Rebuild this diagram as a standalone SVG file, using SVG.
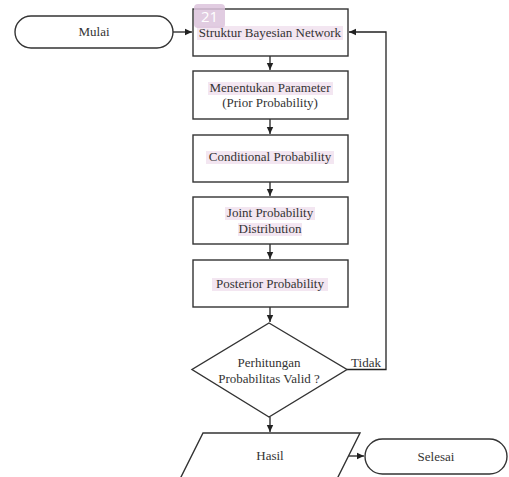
<svg xmlns="http://www.w3.org/2000/svg" width="509" height="477" viewBox="0 0 509 477">
<defs>
<marker id="ah" markerWidth="8" markerHeight="8" refX="7" refY="4" orient="auto" markerUnits="userSpaceOnUse">
<path d="M0,0.8 L7,4 L0,7.2 Z" fill="#222"/>
</marker>
<style>
.s{fill:#fff;stroke:#333;stroke-width:1.4}
.hl{fill:#f3e6f1}
.c{fill:none;stroke:#222;stroke-width:1.3}
</style>
</defs>
<rect width="509" height="477" fill="#fff"/>
<g font-family="Liberation Serif, Times New Roman, serif" font-size="13" fill="#333" text-anchor="middle">
<g id="connectors">
<line class="c" x1="173" y1="32" x2="192" y2="32" marker-end="url(#ah)"/>
<line class="c" x1="270" y1="56" x2="270" y2="70" marker-end="url(#ah)"/>
<line class="c" x1="270" y1="119" x2="270" y2="134" marker-end="url(#ah)"/>
<line class="c" x1="270" y1="182" x2="270" y2="196" marker-end="url(#ah)"/>
<line class="c" x1="270" y1="244" x2="270" y2="259" marker-end="url(#ah)"/>
<line class="c" x1="270" y1="307" x2="270" y2="322" marker-end="url(#ah)"/>
<line class="c" x1="270" y1="417" x2="270" y2="432" marker-end="url(#ah)"/>
<polyline class="c" points="347,369.5 386,369.5 386,32 349,32" marker-end="url(#ah)"/>
<line class="c" x1="348" y1="456" x2="364" y2="456" marker-end="url(#ah)"/>
<text x="366" y="367">Tidak</text>
</g>
<g id="mulai">
<rect class="s" x="15" y="16" width="158" height="32" rx="16" ry="16"/>
<text x="94" y="36">Mulai</text>
</g>
<g id="struktur">
<rect class="s" x="193" y="9" width="155" height="47"/>
<rect class="hl" x="197" y="26" width="146" height="14"/>
<text x="270" y="37">Struktur Bayesian Network</text>
<rect x="194" y="4" width="31" height="24" rx="4" fill="#dcc3dc" opacity="0.85"/>
<text x="209.5" y="22" font-family="Open Sans, Noto Sans, sans-serif" font-size="15" fill="#fff">21</text>
</g>
<g id="parameter">
<rect class="s" x="193" y="71" width="155" height="48"/>
<rect class="hl" x="208" y="82" width="125" height="13"/>
<text x="270" y="92">Menentukan Parameter</text>
<text x="270" y="107">(Prior Probability)</text>
</g>
<g id="conditional">
<rect class="s" x="193" y="135" width="155" height="47"/>
<rect class="hl" x="206" y="151" width="128" height="13"/>
<text x="270" y="161">Conditional Probability</text>
</g>
<g id="joint">
<rect class="s" x="193" y="197" width="155" height="47"/>
<rect class="hl" x="225" y="207" width="90" height="13"/>
<rect class="hl" x="238" y="223" width="64" height="13"/>
<text x="270" y="217">Joint Probability</text>
<text x="270" y="233">Distribution</text>
</g>
<g id="posterior">
<rect class="s" x="193" y="260" width="155" height="47"/>
<rect class="hl" x="212" y="278" width="116" height="13"/>
<text x="270" y="288">Posterior Probability</text>
</g>
<g id="valid">
<polygon class="s" points="269,323 347,369.5 269,417 192,369.5"/>
<text x="269" y="367">Perhitungan</text>
<text x="269" y="383">Probabilitas Valid ?</text>
</g>
<g id="hasil">
<polygon class="s" points="203,433 360,433 337,479 180,479"/>
<text x="270" y="460">Hasil</text>
</g>
<g id="selesai">
<rect class="s" x="365" y="439" width="142" height="35" rx="17.5" ry="17.5"/>
<text x="436" y="461">Selesai</text>
</g>
</g>
</svg>
